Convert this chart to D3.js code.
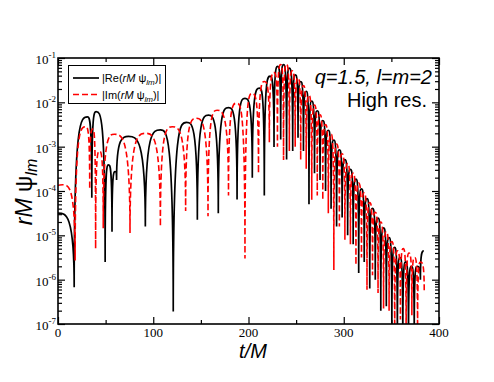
<!DOCTYPE html>
<html>
<head>
<meta charset="utf-8">
<script src="https://cdn.jsdelivr.net/npm/d3@7"></script>
<style>
  body { margin: 0; background: #fff; }
  svg { display: block; }
</style>
</head>
<body>
<svg id="chart" width="494" height="382"></svg>
<script>
// |Re(rM psi_lm)| : extrema (time, log10 of value)
var reT = [0, 17, 31, 35.5, 40, 49.5, 53, 56.7, 60, 61.5, 74, 91.7, 107.5, 121, 135, 146.3, 158, 168.3, 179, 188,
  196.3, 204, 211.5, 216.6, 222.6, 226.8, 230.6, 233.8, 236.8, 240, 242.8, 246.4, 249.2, 252, 254.8, 257.7, 260.6,
  263.5, 266.4, 269.3, 272.2, 275.1, 278, 280.9, 283.8, 286.7, 289.6, 292.5, 295.4, 298.3, 301.2, 304.1, 307, 309.9,
  312.8, 315.7, 318.6, 321.5, 324.4, 327.3, 330.2, 333.1, 336, 338.9, 341.8, 344.7, 347.6, 350.5, 353.4, 356.3, 359,
  362, 365, 368, 371, 374, 377, 380.5, 384];
var reExp = [-4.50, -6.17, -2.33, -4.15, -2.21, -5.6, -3.41, -4.92, -3.56, -3.75, -2.77, -4.8, -2.62, -6.72, -2.45,
  -4.65, -2.29, -4.5, -2.12, -4.19, -1.91, -3.7, -1.68, -4.1, -1.41, -3.01, -1.19, -2.84, -1.15, -3.29, -1.23, -3.1,
  -1.38, -2.8, -1.53, -3.1, -1.75, -4.3, -1.97, -3.6, -2.19, -3.75, -2.41, -4.0, -2.63, -4.4, -2.85, -4.8, -3.07,
  -4.6, -3.29, -5.0, -3.51, -5.2, -3.73, -5.85, -3.95, -5.6, -4.17, -6.2, -4.39, -6.0, -4.61, -6.7, -4.83, -6.6,
  -5.05, -7.3, -5.27, -7.5, -5.5, -7.5, -5.6, -7.5, -5.7, -7.3, -5.7, -6.0, -5.35];

// |Im(rM psi_lm)|
var imT = [0, 5, 18, 29, 33.3, 36.5, 39.5, 43.5, 47.5, 59, 75.6, 92, 107.5, 120, 134, 145, 157.5, 167, 179, 187.5,
  196.3, 203.8, 210.5, 216.8, 221.9, 227, 230.4, 233.7, 236.8, 239.8, 242.9, 246, 249, 252, 254.8, 257.7, 260.6,
  263.5, 266.4, 269.3, 272.2, 275.1, 278, 280.9, 283.8, 286.7, 289.6, 292.5, 295.4, 298.3, 301.2, 304.1, 307, 309.9,
  312.8, 315.7, 318.6, 321.5, 324.4, 327.3, 330.2, 333.1, 336, 338.9, 341.8, 344.7, 347.6, 350.5, 353.5, 356.5,
  359.5, 362.5, 365.5, 368.5, 371.5, 374.5, 377.5, 380.5, 384.5];
var imExp = [-3.89, -3.86, -5.57, -2.55, -3.96, -2.6, -5.3, -3.1, -4.84, -2.72, -4.95, -2.70, -4.8, -2.55, -4.45,
  -2.36, -4.57, -2.18, -4.1, -2.02, -5.52, -1.80, -3.6, -1.53, -2.9, -1.33, -3.0, -1.15, -3.3, -1.14, -3.1, -1.29,
  -3.0, -1.45, -3.3, -1.62, -3.5, -1.84, -4.2, -2.06, -4.1, -2.28, -4.2, -2.5, -4.5, -2.72, -5.78, -2.94, -4.8,
  -3.16, -5.1, -3.38, -5.2, -3.6, -5.67, -3.82, -5.5, -4.04, -6.23, -4.26, -5.9, -4.48, -6.3, -4.7, -6.65, -4.92,
  -6.7, -5.14, -7.5, -5.35, -6.9, -5.3, -7.5, -5.4, -6.8, -5.5, -7.4, -5.6, -6.3];

var xTicks = [0, 100, 200, 300, 400];
var xMinor = [50, 150, 250, 350];
var yDecades = [-7, -6, -5, -4, -3, -2, -1];

var SERIF = "'Liberation Serif', 'Times New Roman', Times, serif";
var SANS = "'Liberation Sans', Arial, Helvetica, sans-serif";

var svg = d3.select('#chart');
var x = d3.scaleLinear().domain([0, 400]).range([58, 439]);
var y = d3.scaleLog().domain([1e-7, 1e-1]).range([324, 58]);

// sharp cusps at the zeros, rounded tops
function spikeCurve(context) {
  var x0, y0, n;
  return {
    areaStart: function() {}, areaEnd: function() {},
    lineStart: function() { n = 0; },
    lineEnd: function() {},
    point: function(px, py) {
      px = +px; py = +py;
      if (n++ === 0) context.moveTo(px, py);
      else if (py < y0) context.bezierCurveTo(x0, py, x0 + (px - x0) / 2, py, px, py);
      else context.bezierCurveTo(x0 + (px - x0) / 2, y0, px, y0, px, py);
      x0 = px; y0 = py;
    }
  };
}

var reData = reT.map(function(t, i) { return {t: t, v: Math.pow(10, reExp[i])}; });
var imData = imT.map(function(t, i) { return {t: t, v: Math.pow(10, imExp[i])}; });

var line = d3.line()
  .x(function(d) { return x(d.t); })
  .y(function(d) { return y(d.v); })
  .curve(spikeCurve);

svg.append('clipPath').attr('id', 'clip')
  .append('rect').attr('x', 58).attr('y', 58).attr('width', 381).attr('height', 266);

var plot = svg.append('g').attr('clip-path', 'url(#clip)');
plot.append('path').datum(reData)
  .attr('d', line).attr('fill', 'none')
  .attr('stroke', '#000').attr('stroke-width', 1.7);
plot.append('path').datum(imData)
  .attr('d', line).attr('fill', 'none')
  .attr('stroke', '#ff0000').attr('stroke-width', 1.6)
  .attr('stroke-dasharray', '6,3');

// axes (ticks point inward)
var yMinor = [];
yDecades.slice(0, -1).forEach(function(k) {
  for (var m = 2; m <= 9; m++) yMinor.push(m * Math.pow(10, k));
});
var yMajor = yDecades.map(function(k) { return Math.pow(10, k); });

function addAxis(gen, tr) {
  svg.append('g').attr('transform', tr).call(gen)
    .call(function(g) { g.select('.domain').remove(); g.selectAll('text').remove(); })
    .selectAll('line').attr('stroke', '#000').attr('stroke-width', 1.2);
}
addAxis(d3.axisBottom(x).tickValues(xTicks).tickSize(-7), 'translate(0,324)');
addAxis(d3.axisBottom(x).tickValues(xMinor).tickSize(-4), 'translate(0,324)');
addAxis(d3.axisTop(x).tickValues(xTicks).tickSize(-7), 'translate(0,58)');
addAxis(d3.axisTop(x).tickValues(xMinor).tickSize(-4), 'translate(0,58)');
addAxis(d3.axisLeft(y).tickValues(yMajor).tickSize(-7), 'translate(58,0)');
addAxis(d3.axisLeft(y).tickValues(yMinor).tickSize(-4), 'translate(58,0)');
addAxis(d3.axisRight(y).tickValues(yMajor).tickSize(-7), 'translate(439,0)');
addAxis(d3.axisRight(y).tickValues(yMinor).tickSize(-4), 'translate(439,0)');

svg.append('rect').attr('x', 58).attr('y', 58).attr('width', 381).attr('height', 266)
  .attr('fill', 'none').attr('stroke', '#000').attr('stroke-width', 1.6);

// tick labels
svg.append('g').selectAll('text').data(xTicks).enter().append('text')
  .attr('x', function(d) { return x(d); }).attr('y', 337)
  .attr('text-anchor', 'middle')
  .style('font-family', SERIF).style('font-size', '13px')
  .text(function(d) { return d; });

var yl = svg.append('g').selectAll('text').data(yDecades).enter().append('text')
  .attr('x', 56).attr('y', function(d) { return y(Math.pow(10, d)) + 6; })
  .attr('text-anchor', 'end')
  .style('font-family', SERIF).style('font-size', '13px');
yl.append('tspan').text('10');
yl.append('tspan').attr('dy', -6).style('font-size', '9px').text(function(d) { return '-' + (-d); });

// axis titles
var yt = svg.append('text').attr('transform', 'translate(32,192) rotate(-90)')
  .attr('text-anchor', 'middle')
  .style('font-family', SANS).style('font-size', '23px');
yt.append('tspan').style('font-style', 'italic').text('rM');
yt.append('tspan').text(' \u03c8');
yt.append('tspan').attr('dy', 5).style('font-style', 'italic').style('font-size', '16px').text('lm');

svg.append('text').attr('x', 253).attr('y', 358).attr('text-anchor', 'middle')
  .style('font-family', SANS).style('font-size', '20px')
  .style('font-style', 'italic').text('t/M');

// annotation
svg.append('text').attr('x', 432).attr('y', 84).attr('text-anchor', 'end')
  .style('font-family', SANS).style('font-size', '20px')
  .style('font-style', 'italic').text('q=1.5, l=m=2');
svg.append('text').attr('x', 427).attr('y', 107).attr('text-anchor', 'end')
  .style('font-family', SANS).style('font-size', '20px')
  .text('High res.');

// legend
var legend = svg.append('g');
legend.append('rect').attr('x', 68.5).attr('y', 65.5).attr('width', 97).attr('height', 38)
  .attr('fill', '#fff').attr('stroke', '#000').attr('stroke-width', 1);
var items = [
  {name: 'Re', color: '#000', dash: null, yy: 78},
  {name: 'Im', color: '#ff0000', dash: '6,3', yy: 94.5}
];
items.forEach(function(it) {
  legend.append('line').attr('x1', 73).attr('x2', 99).attr('y1', it.yy).attr('y2', it.yy)
    .attr('stroke', it.color).attr('stroke-width', 1.7).attr('stroke-dasharray', it.dash);
  var t = legend.append('text').attr('x', 102).attr('y', it.yy + 4)
    .style('font-family', SANS).style('font-size', '11px');
  t.append('tspan').text('|' + it.name + '(');
  t.append('tspan').style('font-style', 'italic').text('rM');
  t.append('tspan').text(' \u03c8');
  t.append('tspan').attr('dy', 3).style('font-style', 'italic').style('font-size', '8px').text('lm');
  t.append('tspan').attr('dy', -3).text(')|');
});
</script>
</body>
</html>
